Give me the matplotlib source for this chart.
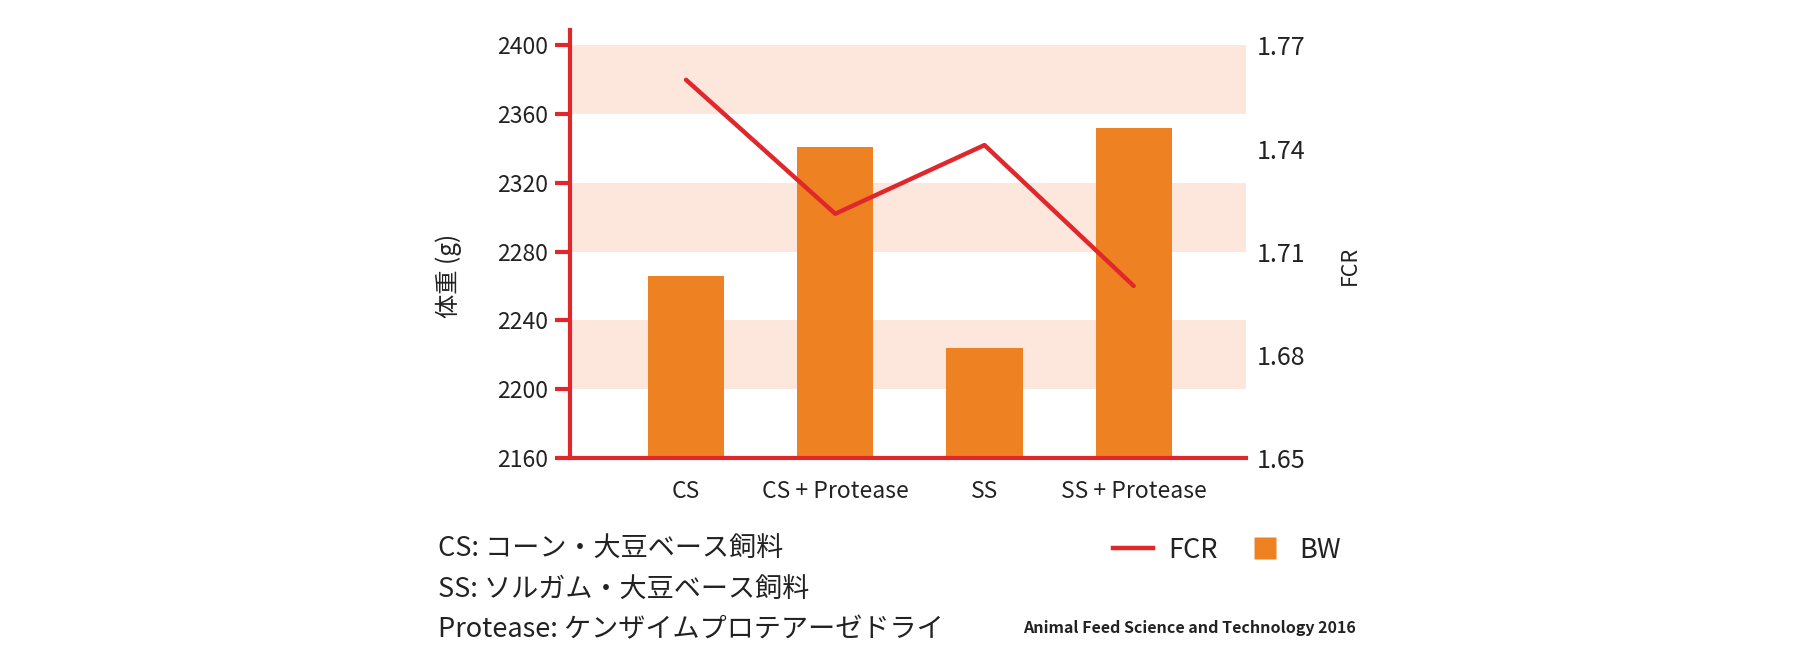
import numpy as np
import matplotlib.pyplot as plt
from matplotlib.lines import Line2D

plt.rcParams['font.family'] = ['Noto Sans CJK JP', 'DejaVu Sans']

# data
groups = ['CS', 'CS + Protease', 'SS', 'SS + Protease']
bw = [2266, 2341, 2224, 2352]
fcr = [1.760, 1.721, 1.741, 1.700]
yticks_bw = [2160, 2200, 2240, 2280, 2320, 2360, 2400]
yticks_fcr = [1.65, 1.68, 1.71, 1.74, 1.77]
bands = [(2200, 2240), (2280, 2320), (2360, 2400)]
notes = ['CS: コーン・大豆ベース飼料',
         'SS: ソルガム・大豆ベース飼料',
         'Protease: ケンザイムプロテアーゼドライ']
source = 'Animal Feed Science and Technology 2016'

red = '#e0282c'
orange = '#ee8223'
band_col = '#fde7dd'
txt = '#222222'

fig = plt.figure(figsize=(18, 6.62), dpi=100)
ax = fig.add_axes([0.3169, 0.3086, 0.3751, 0.6461])
x = np.arange(len(groups))

# fondo en franjas
for lo, hi in bands:
    ax.axhspan(lo, hi, color=band_col, lw=0, zorder=0)

ax.bar(x, bw, width=0.51, color=orange, zorder=2)
ax.set_xlim(-0.775, 3.75)
ax.set_ylim(2160, 2409)
ax.set_yticks(yticks_bw)
ax.set_xticks(x)
ax.set_xticklabels(groups, fontsize=16.5, color=txt)
ax.tick_params(axis='y', colors=red, length=11, width=3, labelsize=16.5,
               labelcolor=txt, pad=5)
ax.tick_params(axis='x', length=0, pad=16)
for s in ['top', 'right']:
    ax.spines[s].set_visible(False)
for s in ['left', 'bottom']:
    ax.spines[s].set_color(red)
    ax.spines[s].set_linewidth(3)
    ax.spines[s].set_zorder(5)
ax.set_ylabel('体重 (g)', fontsize=17.5, color=txt)
ax.yaxis.set_label_coords(-0.160, 0.425)

# eixo da direita (FCR)
ax2 = ax.twinx()
ax2.set_ylim(1.65, 1.65 + 249 * 0.0005)
ax2.plot(x, fcr, color=red, lw=3.2, zorder=3, solid_capstyle='round')
ax2.set_yticks(yticks_fcr)
ax2.set_yticklabels(['%.2f' % v for v in yticks_fcr])
ax2.tick_params(axis='y', length=0, labelsize=18, labelcolor=txt, pad=8)
for s in ['top', 'right', 'left', 'bottom']:
    ax2.spines[s].set_visible(False)
ax2.set_ylabel('FCR', fontsize=15.5, color=txt)
ax2.yaxis.set_label_coords(1.138, 0.45)

# notas de rodape
for i, t in enumerate(notes):
    fig.text(438 / 1800, 1 - (548 + 41 * i) / 662, t, fontsize=19.5,
             color=txt, va='center', ha='left')

fig.text(1356 / 1800, 1 - 628 / 662, source, fontsize=11.5, fontweight='bold',
         color=txt, va='center', ha='right')

handles = [Line2D([], [], color=red, lw=3.2),
           Line2D([], [], marker='s', color='none', markerfacecolor=orange,
                  markeredgecolor='none', markersize=16)]
fig.legend(handles, ['FCR', 'BW'], loc='center left',
           bbox_to_anchor=(1113 / 1800, 1 - 550 / 662), ncol=2, frameon=False,
           fontsize=19.5, handlelength=1.48, columnspacing=1.0,
           handletextpad=0.55, borderpad=0, borderaxespad=0,
           labelcolor=txt)

fig.savefig('out.png', dpi=100)
